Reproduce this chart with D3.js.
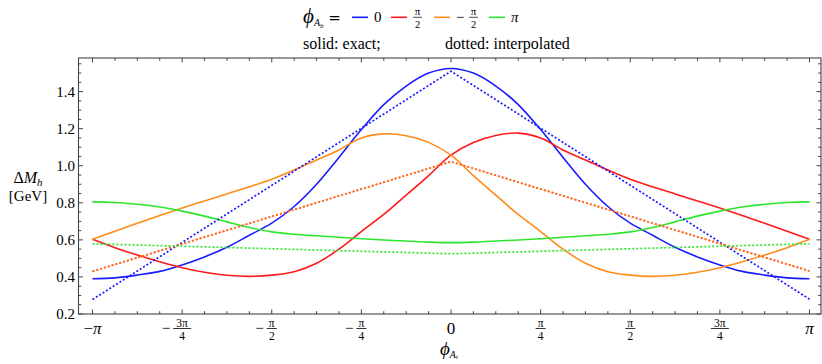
<!DOCTYPE html>
<html>
<head>
<meta charset="utf-8">
<script src="https://cdn.jsdelivr.net/npm/d3@7"></script>
<style>
  body { margin: 0; background: #fff; }
  svg { display: block; }
  text { font-family: "Liberation Serif", "DejaVu Serif", serif; fill: #000; }
</style>
</head>
<body>
<svg id="chart" width="822" height="364"></svg>
<script>
// sampling grid in phi_At (steps of pi/16 from -pi to pi)
var phiGrid = d3.range(33).map(function (k) { return -Math.PI + k * Math.PI / 16; });

// solid: exact
var exactBlue = [0.39, 0.395, 0.41, 0.43, 0.465, 0.508, 0.56, 0.625, 0.69, 0.78, 0.90, 1.045, 1.195, 1.33, 1.43, 1.50, 1.525,
  1.50, 1.43, 1.33, 1.195, 1.045, 0.90, 0.78, 0.69, 0.625, 0.56, 0.508, 0.465, 0.43, 0.41, 0.395, 0.39];
var exactRed = [0.603, 0.558, 0.518, 0.482, 0.45, 0.425, 0.409, 0.403, 0.41, 0.428, 0.474, 0.55, 0.645, 0.737, 0.841, 0.947, 1.057,
  1.125, 1.163, 1.176, 1.15, 1.085, 1.031, 0.977, 0.927, 0.886, 0.848, 0.81, 0.772, 0.732, 0.69, 0.647, 0.603];
var exactOrange = [0.603, 0.647, 0.69, 0.732, 0.772, 0.81, 0.848, 0.886, 0.927, 0.977, 1.031, 1.085, 1.15, 1.172, 1.162, 1.126, 1.057,
  0.947, 0.841, 0.737, 0.645, 0.55, 0.474, 0.428, 0.41, 0.403, 0.409, 0.425, 0.45, 0.482, 0.518, 0.558, 0.603];
var exactGreen = [0.805, 0.802, 0.792, 0.777, 0.755, 0.728, 0.697, 0.667, 0.643, 0.63, 0.622, 0.614, 0.606, 0.599, 0.594, 0.588, 0.585,
  0.588, 0.594, 0.599, 0.606, 0.614, 0.622, 0.63, 0.643, 0.667, 0.697, 0.728, 0.755, 0.777, 0.792, 0.802, 0.805];

// dotted: interpolated (nodes at -pi, 0, pi)
var phiNodes = [-Math.PI, 0, Math.PI];
var interpBlue = [0.278, 1.51, 0.28];
var interpRed = [0.43, 1.022, 0.432];
var interpOrange = [0.43, 1.022, 0.432];
var interpGreen = [0.579, 0.525, 0.579];

var xTickLabels = ["−π", "−3π/4", "−π/2", "−π/4", "0", "π/4", "π/2", "3π/4", "π"];
var yTickValues = [0.2, 0.4, 0.6, 0.8, 1.0, 1.2, 1.4];
var legendKeys = ["0", "π/2", "−π/2", "π"];
var legendColors = ["#1a1aff", "#ff1a1a", "#ff8c1a", "#2ee62e"];

var svg = d3.select("#chart");
var frame = { left: 78.5, right: 821, top: 58, bottom: 314 };

var x = d3.scaleLinear().domain([-Math.PI, Math.PI]).range([92.5, 809.5]);
var y = d3.scaleLinear().domain([0.2, 1.4]).range([314, 91.6]);

// frame
svg.append("rect")
  .attr("x", frame.left).attr("y", frame.top)
  .attr("width", frame.right - frame.left).attr("height", frame.bottom - frame.top)
  .attr("fill", "none").attr("stroke", "#444").attr("stroke-width", 1.1);

var ticks = svg.append("g").attr("stroke", "#444").attr("stroke-width", 1);

// x ticks, bottom and top, major every pi/4, minor every pi/16
d3.range(33).forEach(function (k) {
  var px = x(-Math.PI + k * Math.PI / 16);
  var len = (k % 4 === 0) ? 4.5 : 2.8;
  ticks.append("line").attr("x1", px).attr("x2", px).attr("y1", frame.bottom).attr("y2", frame.bottom - len);
  ticks.append("line").attr("x1", px).attr("x2", px).attr("y1", frame.top).attr("y2", frame.top + len);
});

// y ticks, left and right
d3.range(0.2, 1.5801, 0.05).forEach(function (v, i) {
  var py = y(v);
  var len = (i % 4 === 0) ? 4.5 : 2.8;
  ticks.append("line").attr("y1", py).attr("y2", py).attr("x1", frame.left).attr("x2", frame.left + len);
  ticks.append("line").attr("y1", py).attr("y2", py).attr("x1", frame.right).attr("x2", frame.right - len);
});

// y tick labels
svg.append("g").selectAll("text")
  .data(yTickValues)
  .enter().append("text")
  .attr("x", 75).attr("y", function (d) { return y(d) + 5; })
  .attr("text-anchor", "end").attr("font-size", 15)
  .text(function (d) { return d.toFixed(1); });

// draws "a/b" as a stacked fraction, optional leading minus
function fraction(g, cx, cy, label, size) {
  var neg = label.charAt(0) === "−";
  var s = neg ? label.slice(1) : label;
  var parts = s.split("/");
  if (parts.length === 1) {
    var t = g.append("text").attr("x", cx).attr("y", cy + 5).attr("text-anchor", "middle").attr("font-size", 17);
    if (neg) t.append("tspan").text("−");
    t.append("tspan").attr("font-style", s === "π" ? "italic" : null).text(s);
    return;
  }
  var w = parts[0].length > 1 ? 18 : 10;
  g.append("text").attr("x", cx).attr("y", cy - 1.8).attr("text-anchor", "middle")
    .attr("font-size", size).text(parts[0]);
  g.append("line").attr("x1", cx - w / 2).attr("x2", cx + w / 2).attr("y1", cy).attr("y2", cy)
    .attr("stroke", "#000").attr("stroke-width", 0.8);
  g.append("text").attr("x", cx).attr("y", cy + size - 0.5).attr("text-anchor", "middle")
    .attr("font-size", size).text(parts[1]);
  if (neg) {
    g.append("text").attr("x", cx - w / 2 - 3).attr("y", cy + 4.5).attr("text-anchor", "end")
      .attr("font-size", 15).text("−");
  }
}

var xl = svg.append("g");
xTickLabels.forEach(function (lab, i) {
  fraction(xl, x(-Math.PI + i * Math.PI / 4), 328.5, lab, 11.5);
});

// axis titles
svg.append("text").attr("x", 28).attr("y", 183).attr("text-anchor", "middle").attr("font-size", 16)
  .html('Δ<tspan font-style="italic">M</tspan><tspan font-style="italic" font-size="11" dy="3">h</tspan>');
svg.append("text").attr("x", 28).attr("y", 201).attr("text-anchor", "middle").attr("font-size", 15)
  .text("[GeV]");
svg.append("text").attr("x", 440).attr("y", 355).attr("font-size", 19)
  .html('<tspan font-style="italic">ϕ</tspan><tspan font-style="italic" font-size="10" dy="2.5">A</tspan><tspan font-style="italic" font-size="7" dy="1.5">t</tspan>');

// curves
var plot = svg.append("g");
var line = d3.line()
  .x(function (d) { return x(d[0]); })
  .y(function (d) { return y(d[1]); });
var smooth = d3.line()
  .x(function (d) { return x(d[0]); })
  .y(function (d) { return y(d[1]); })
  .curve(d3.curveCatmullRom.alpha(0.5));

function zipWith(xs, vs) { return xs.map(function (v, i) { return [v, vs[i]]; }); }

var exactSets = [exactBlue, exactRed, exactOrange, exactGreen];
var interpSets = [interpBlue, interpRed, interpOrange, interpGreen];

exactSets.forEach(function (vals, i) {
  plot.append("path")
    .attr("d", smooth(zipWith(phiGrid, vals)))
    .attr("fill", "none").attr("stroke", legendColors[i]).attr("stroke-width", 1.6)
    .attr("stroke-linejoin", "round");
});
interpSets.forEach(function (vals, i) {
  plot.append("path")
    .attr("d", line(zipWith(phiNodes, vals)))
    .attr("fill", "none").attr("stroke", legendColors[i]).attr("stroke-width", 1.7)
    .attr("stroke-dasharray", "2,2")
    .attr("opacity", i === 2 ? 0.8 : 1);
});

// legend
var lg = svg.append("g");
lg.append("text").attr("x", 303).attr("y", 23).attr("font-size", 21)
  .html('<tspan font-style="italic">ϕ</tspan><tspan font-style="italic" font-size="10" dy="3">A</tspan><tspan font-style="italic" font-size="7" dy="2">b</tspan><tspan font-size="15" dy="-5" font-family="DejaVu Sans"> =</tspan>');
var legendX = [352, 391, 434, 489];
legendKeys.forEach(function (k, i) {
  lg.append("line").attr("x1", legendX[i]).attr("x2", legendX[i] + 16).attr("y1", 17.3).attr("y2", 17.3)
    .attr("stroke", legendColors[i]).attr("stroke-width", 1.6);
  var tx = legendX[i] + 22;
  if (k.indexOf("/") < 0) {
    lg.append("text").attr("x", tx).attr("y", 22).attr("font-size", 15)
      .attr("font-family", k === "0" ? "DejaVu Sans" : null)
      .attr("font-style", k === "π" ? "italic" : null).text(k);
  } else {
    var neg = k.charAt(0) === "−";
    if (neg) {
      lg.append("text").attr("x", tx).attr("y", 22).attr("font-size", 15)
        .attr("font-family", "DejaVu Sans").text("−");
      tx += 13;
    }
    lg.append("text").attr("x", tx + 4.5).attr("y", 15.3).attr("text-anchor", "middle").attr("font-size", 11)
      .attr("font-family", "DejaVu Sans").text("π");
    lg.append("line").attr("x1", tx).attr("x2", tx + 9).attr("y1", 17.3).attr("y2", 17.3)
      .attr("stroke", "#000").attr("stroke-width", 0.7);
    lg.append("text").attr("x", tx + 4.5).attr("y", 27.5).attr("text-anchor", "middle").attr("font-size", 10.5)
      .attr("font-family", "DejaVu Sans").text("2");
  }
});
lg.append("text").attr("x", 303).attr("y", 49).attr("font-size", 16).text("solid: exact;");
lg.append("text").attr("x", 445).attr("y", 49).attr("font-size", 16).text("dotted: interpolated");
</script>
</body>
</html>
